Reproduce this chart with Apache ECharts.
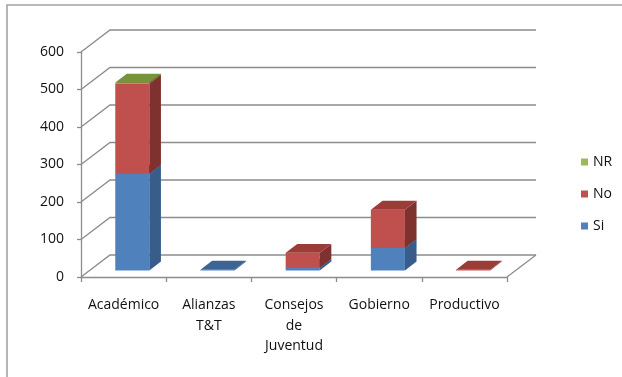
<!DOCTYPE html>
<html><head><meta charset="utf-8">
<script src="https://cdn.jsdelivr.net/npm/echarts@6/dist/echarts.min.js"></script>
<style>html,body{margin:0;padding:0;background:#fff}#c{width:622px;height:377px}</style>
</head><body><div id="c"></div>
<script>
const categories = ['Académico', 'Alianzas\nT&T', 'Consejos\nde\nJuventud', 'Gobierno', 'Productivo'];
const si = [258, 2, 7, 60, 0];
const no = [240, 0, 40, 102, 2];
const nr = [3, 0, 0, 0, 0];
const yTicks = [0, 100, 200, 300, 400, 500, 600];

const DX = 29, DY = -22;       // full floor depth offset
const FRONT = 0.3, BACK = 0.7; // bar position within the depth
const BAR_W = 0.4;             // bar width as share of category width
const FONT = '"Open Sans", sans-serif';

const palette = {
  Si: { front: '#4F81BD', side: '#385D8A', top: '#3C6494' },
  No: { front: '#C0504D', side: '#7E312F', top: '#9C3C39' },
  NR: { front: '#9BBB59', side: '#617A32', top: '#77933C' }
};

function stackData(vals, bases) {
  const out = [];
  vals.forEach((v, i) => {
    if (v > 0) out.push([i, bases[i], bases[i] + v]);
  });
  return out;
}
const base0 = si.map(() => 0);
const base1 = si.slice();
const base2 = si.map((v, i) => v + no[i]);

function barRender(col) {
  return function (params, api) {
    const i = api.value(0), b = api.value(1), t = api.value(2);
    const c0 = api.coord([i, b]), c1 = api.coord([i, t]);
    const w = api.size([1, 0])[0] * BAR_W;
    const fx = DX * FRONT, fy = DY * FRONT;
    const dx = DX * (BACK - FRONT), dy = DY * (BACK - FRONT);
    const x0 = c0[0] - w / 2 + fx, x1 = c0[0] + w / 2 + fx;
    const yb = c0[1] + fy, yt = c1[1] + fy;
    return {
      type: 'group',
      children: [
        { type: 'polygon', shape: { points: [[x0, yb], [x1, yb], [x1, yt], [x0, yt]] }, style: { fill: col.front } },
        { type: 'polygon', shape: { points: [[x1, yb], [x1 + dx, yb + dy], [x1 + dx, yt + dy], [x1, yt]] }, style: { fill: col.side } },
        { type: 'polygon', shape: { points: [[x0, yt], [x1, yt], [x1 + dx, yt + dy], [x0 + dx, yt + dy]] }, style: { fill: col.top } }
      ]
    };
  };
}

function gridRender(params, api) {
  const cs = params.coordSys;
  const v = api.value(0);
  const y = api.coord([0, v])[1];
  const children = [{
    type: 'polyline',
    shape: { points: [[cs.x, y], [cs.x + DX, y + DY], [cs.x + cs.width + DX, y + DY]] },
    style: { stroke: '#8c8c8c', lineWidth: 1.3, fill: null }
  }];
  if (v === 0) {
    children.push({
      type: 'line',
      shape: { x1: cs.x + cs.width, y1: y, x2: cs.x + cs.width + DX, y2: y + DY },
      style: { stroke: '#8c8c8c', lineWidth: 1.3 }
    });
  }
  return { type: 'group', children };
}

const chart = echarts.init(document.getElementById('c'), null, { renderer: 'canvas' });
chart.setOption({
  animation: false,
  backgroundColor: '#fff',
  graphic: [{
    type: 'rect', silent: true, z: 100,
    shape: { x: 7, y: 5, width: 700, height: 450 },
    style: { fill: 'none', stroke: '#a3a3a3', lineWidth: 1.6 }
  }],
  grid: { left: 81, right: 115, top: 52, bottom: 100, containLabel: false },
  legend: {
    orient: 'vertical', left: 576, top: 148,
    itemWidth: 7, itemHeight: 7, itemGap: 14, icon: 'rect',
    data: ['NR', 'No', 'Si'],
    textStyle: { fontFamily: FONT, fontSize: 14, color: '#111', lineHeight: 18 }
  },
  xAxis: {
    type: 'category', data: categories,
    axisLine: { show: true, lineStyle: { color: '#8c8c8c', width: 1.3 } },
    axisTick: { show: true, length: 5, interval: 0, lineStyle: { color: '#8c8c8c', width: 1.3 } },
    axisLabel: { interval: 0, margin: 18, fontFamily: FONT, fontSize: 14, color: '#111', lineHeight: 20.5 },
    splitLine: { show: false }
  },
  yAxis: {
    type: 'value', min: 0, max: 600, interval: 100,
    axisLine: { show: true, lineStyle: { color: '#8c8c8c', width: 1.3 } },
    axisTick: { show: true, length: 4, lineStyle: { color: '#8c8c8c', width: 1.3 } },
    axisLabel: { margin: 17, fontFamily: FONT, fontSize: 14, color: '#111' },
    splitLine: { show: false }
  },
  series: [
    { type: 'custom', name: 'grid', z: 1, silent: true, renderItem: gridRender, data: yTicks.map(v => [v]), encode: { y: 0 } },
    { type: 'custom', name: 'Si', z: 2, itemStyle: { color: palette.Si.front }, renderItem: barRender(palette.Si), data: stackData(si, base0), encode: { x: 0, y: [1, 2] } },
    { type: 'custom', name: 'No', z: 2, itemStyle: { color: palette.No.front }, renderItem: barRender(palette.No), data: stackData(no, base1), encode: { x: 0, y: [1, 2] } },
    { type: 'custom', name: 'NR', z: 2, itemStyle: { color: palette.NR.front }, renderItem: barRender(palette.NR), data: stackData(nr, base2), encode: { x: 0, y: [1, 2] } }
  ]
});
</script>
</body></html>
